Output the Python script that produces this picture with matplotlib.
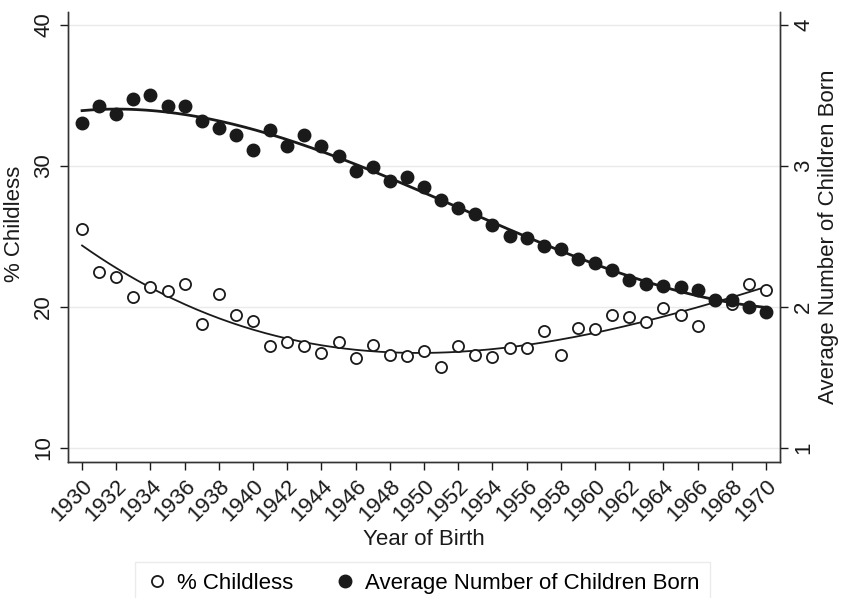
import numpy as np
import matplotlib
matplotlib.use("Agg")
import matplotlib.pyplot as plt
from matplotlib.lines import Line2D

plt.rcParams['font.family'] = ['Liberation Sans', 'DejaVu Sans']

years = list(range(1930, 1971))
pct_childless = [25.5, 22.5, 22.1, 20.7, 21.4, 21.1, 21.6, 18.8, 20.9, 19.45,
                 19.0, 17.25, 17.5, 17.25, 16.7, 17.5, 16.4, 17.3, 16.6, 16.5,
                 16.9, 15.75, 17.25, 16.6, 16.45, 17.1, 17.1, 18.3, 16.6, 18.5,
                 18.4, 19.45, 19.25, 18.95, 19.95, 19.45, 18.65, 20.5, 20.2, 21.65,
                 21.2]
avg_children = [3.30, 3.42, 3.37, 3.47, 3.50, 3.42, 3.42, 3.32, 3.27, 3.22,
                3.11, 3.25, 3.14, 3.22, 3.14, 3.07, 2.96, 2.99, 2.89, 2.92,
                2.85, 2.76, 2.70, 2.66, 2.58, 2.50, 2.49, 2.43, 2.41, 2.34,
                2.31, 2.26, 2.19, 2.16, 2.15, 2.14, 2.12, 2.05, 2.05, 2.00,
                1.96]
x_ticks = list(range(1930, 1971, 2))
left_ticks = [10, 20, 30, 40]
right_ticks = [1, 2, 3, 4]

FS = 16
fig = plt.figure(figsize=(8.42, 5.98), dpi=100)
ax = fig.add_axes([0.0808, 0.2274, 0.8456, 0.7526])
ax2 = ax.twinx()

x = np.array(years, dtype=float)
xx = np.linspace(1930, 1970, 300)
c1 = np.polyfit(x, pct_childless, 3)
c2 = np.polyfit(x, avg_children, 3)

ax.set_ylim(9.0, 40.9)
ax2.set_ylim(0.90, 4.09)
ax.set_xlim(1929.18, 1970.82)

for t in left_ticks:
    ax.axhline(t, color='#eaeaea', lw=1.0, zorder=0)

ax.plot(xx, np.polyval(c1, xx), color='#1a1a1a', lw=1.3, zorder=2)
ax.plot(x, pct_childless, 'o', mfc='white', mec='#1a1a1a', mew=1.3, ms=8, zorder=3)
ax2.plot(xx, np.polyval(c2, xx), color='#1a1a1a', lw=2.0, zorder=2)
ax2.plot(x, avg_children, 'o', mfc='#1a1a1a', mec='#1a1a1a', ms=9, zorder=3)

ax.set_yticks(left_ticks)
ax.set_yticklabels([str(t) for t in left_ticks], rotation=90, va='center', fontsize=FS)
ax2.set_yticks(right_ticks)
ax2.set_yticklabels([str(t) for t in right_ticks], rotation=90, va='center', fontsize=FS)
ax.set_xticks(x_ticks)
ax.set_xticklabels([str(t) for t in x_ticks], rotation=45, ha='right',
                   rotation_mode='anchor', fontsize=FS)

for a in (ax, ax2):
    a.spines['top'].set_visible(False)
    for s in a.spines.values():
        s.set_color('#333333')
        s.set_linewidth(1.0)
    a.tick_params(colors='#1a1a1a', length=6, width=1.0)
ax.tick_params(axis='y', pad=4)
ax.tick_params(axis='x', pad=4)

ax.set_ylabel('% Childless', fontsize=FS, color='#1a1a1a', labelpad=3)
ax.yaxis.set_label_coords(-0.06, 0.53)
ax2.set_ylabel('Average Number of Children Born', fontsize=FS, color='#1a1a1a', labelpad=3)
ax.set_xlabel('Year of Birth', fontsize=FS, color='#1a1a1a', labelpad=2)

handles = [Line2D([], [], ls='none', marker='o', mfc='white', mec='#1a1a1a', mew=1.3, ms=8),
           Line2D([], [], ls='none', marker='o', mfc='#1a1a1a', mec='#1a1a1a', ms=9)]
leg = fig.legend(handles, ['% Childless', 'Average Number of Children Born'],
                 loc='lower center', bbox_to_anchor=(0.502, -0.03), ncol=2,
                 frameon=True, fancybox=False, fontsize=FS, handletextpad=0.4,
                 columnspacing=1.8, handlelength=1.0, borderpad=0.5)
leg.get_frame().set_edgecolor('#e6e6e6')
leg.get_frame().set_linewidth(1.0)

fig.savefig('out.png', dpi=100)
